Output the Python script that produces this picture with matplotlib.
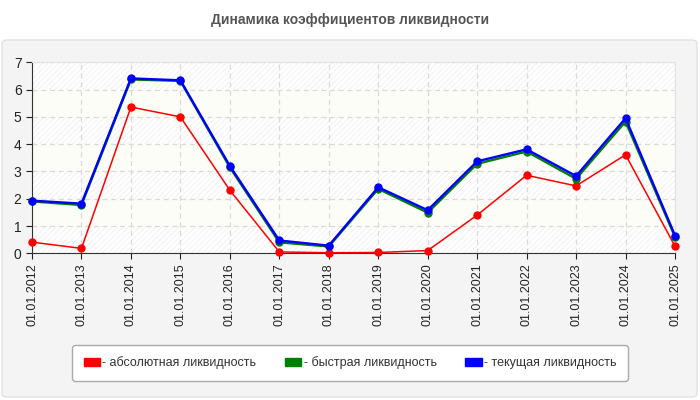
import matplotlib
matplotlib.use("Agg")
import matplotlib.pyplot as plt
from matplotlib.patches import FancyBboxPatch, Patch

# Data
dates = ["01.01.2012", "01.01.2013", "01.01.2014", "01.01.2015", "01.01.2016",
         "01.01.2017", "01.01.2018", "01.01.2019", "01.01.2020", "01.01.2021",
         "01.01.2022", "01.01.2023", "01.01.2024", "01.01.2025"]
absolute = [0.41, 0.18, 5.36, 5.00, 2.31, 0.05, 0.02, 0.03, 0.10, 1.40, 2.86, 2.47, 3.61, 0.26]
quick = [1.90, 1.77, 6.37, 6.32, 3.15, 0.40, 0.25, 2.36, 1.49, 3.28, 3.73, 2.73, 4.83, 0.60]
current = [1.93, 1.82, 6.41, 6.34, 3.20, 0.47, 0.28, 2.42, 1.58, 3.37, 3.81, 2.83, 4.95, 0.65]

labels = ["- абсолютная ликвидность", "- быстрая ликвидность", "- текущая ликвидность"]
colors = ["#ff0000", "#008000", "#0000ff"]
title = "Динамика коэффициентов ликвидности"

plt.rcParams["font.family"] = ["Liberation Sans", "DejaVu Sans"]
plt.rcParams["hatch.linewidth"] = 0.5
plt.rcParams["hatch.color"] = "#ececec"

fig = plt.figure(figsize=(7, 4), dpi=100)
fig.patch.set_facecolor("white")

# grey panel behind the chart
panel = FancyBboxPatch((2 / 700, 3 / 400), 695 / 700, 357 / 400,
                       boxstyle="round,pad=0,rounding_size=0.008",
                       transform=fig.transFigure, facecolor="#f4f4f4",
                       edgecolor="#e2e2e2", lw=1, zorder=-10)
fig.patches.append(panel)

fig.text(0.5, 1 - 20 / 400, title, ha="center", va="center",
         fontsize=10, fontweight="bold", color="#555555")

ax = fig.add_axes([32 / 700, 1 - 253.3 / 400, 643 / 700, 191 / 400])
ax.set_facecolor("white")

# alternating striped bands
for k in range(7):
    if k % 2 == 0:
        ax.axhspan(k, k + 1, facecolor="white", hatch="//////", edgecolor="#ececec", lw=0, zorder=0)
    else:
        ax.axhspan(k, k + 1, facecolor="#fdfdf7", lw=0, zorder=0)

x = list(range(len(dates)))
for vals, c, lw in zip([absolute, quick, current], colors, [1.1, 1.7, 1.7]):
    ax.plot(x, vals, color=c, lw=lw, marker="o", markersize=5, zorder=3, clip_on=False)

ax.set_xlim(0, len(dates) - 1)
ax.set_ylim(0, 7)
ax.set_yticks(range(8))
ax.set_xticks(x)
ax.set_xticklabels(dates, rotation=90, fontsize=9, color="#222222")
ax.tick_params(axis="y", labelsize=10, colors="#222222", length=4)
ax.tick_params(axis="x", length=4, colors="#222222")
ax.grid(True, color="#dadada", linestyle=(0, (4, 3)), lw=0.9, zorder=1)
ax.set_axisbelow(True)
for s in ["top", "right"]:
    ax.spines[s].set_color("#e2e2e2")
for s in ["left", "bottom"]:
    ax.spines[s].set_color("#333333")

handles = [Patch(facecolor=c, edgecolor=c) for c in colors]
leg = fig.legend(handles, labels, ncol=3, loc="center",
                 bbox_to_anchor=(66 / 700, 1 - 381 / 400, 568 / 700, 36 / 400),
                 mode="expand", fontsize=9, handlelength=1.3, handleheight=0.6,
                 handletextpad=0.2, frameon=True, fancybox=True, borderpad=0.9)
leg.get_frame().set_facecolor("white")
leg.get_frame().set_edgecolor("#aaaaaa")
leg.get_frame().set_alpha(1)
for t in leg.get_texts():
    t.set_color("#333333")

fig.savefig("out.png", dpi=100)
